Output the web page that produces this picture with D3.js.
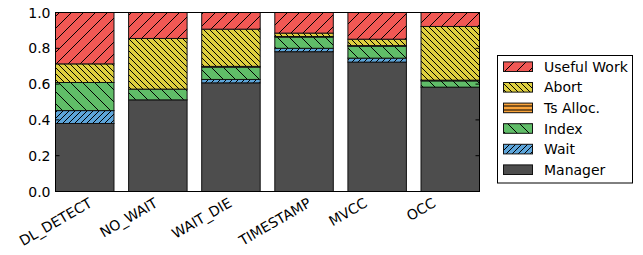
<!DOCTYPE html>
<html>
<meta charset="utf-8">
<style>
  body { margin: 0; background: #fff; }
  svg text { font-family: "DejaVu Sans", sans-serif; }
</style>
<body>
<svg width="643" height="255"></svg>
<script src="https://d3js.org/d3.v7.min.js"></script>
<script>
// data, bottom to top of each bar
const categories = ["DL_DETECT", "NO_WAIT", "WAIT_DIE", "TIMESTAMP", "MVCC", "OCC"];
const manager = [0.380, 0.512, 0.607, 0.781, 0.723, 0.583];
const wait    = [0.072, 0.000, 0.019, 0.019, 0.022, 0.000];
const index   = [0.157, 0.060, 0.069, 0.063, 0.067, 0.035];
const tsAlloc = [0.000, 0.000, 0.004, 0.003, 0.003, 0.004];
const abort   = [0.104, 0.283, 0.208, 0.019, 0.036, 0.300];
const useful  = [0.287, 0.145, 0.093, 0.115, 0.149, 0.078];
const yTicks = [0.0, 0.2, 0.4, 0.6, 0.8, 1.0];

const series = [
  {key: "manager", name: "Manager",     values: manager, color: "#4d4d4d", hatch: null},
  {key: "wait",    name: "Wait",        values: wait,    color: "#5da5da", hatch: {dir: "/", s: 6}},
  {key: "index",   name: "Index",       values: index,   color: "#60bd68", hatch: {dir: "\\", s: 12}},
  {key: "ts",      name: "Ts Alloc.",   values: tsAlloc, color: "#faa43a", hatch: {dir: "-", s: 4}},
  {key: "abort",   name: "Abort",       values: abort,   color: "#decf3f", hatch: {dir: "\\", s: 6}},
  {key: "useful",  name: "Useful Work", values: useful,  color: "#f15854", hatch: {dir: "/", s: 12}}
];

const svg = d3.select("svg");
const plot = {left: 55.5, right: 479.5, top: 12.5, bottom: 191.5};
const fs = "14px";

const x = d3.scaleLinear().domain([0, categories.length - 0.2]).range([plot.left, plot.right]);
const y = d3.scaleLinear().domain([0, 1]).range([plot.bottom, plot.top]);
const barW = 0.8;

// hatch patterns
const defs = svg.append("defs");
series.forEach(s => {
  if (!s.hatch) return;
  const p = defs.append("pattern")
    .attr("id", "h-" + s.key)
    .attr("patternUnits", "userSpaceOnUse")
    .attr("width", s.hatch.s).attr("height", s.hatch.s);
  p.append("rect").attr("width", s.hatch.s).attr("height", s.hatch.s).attr("fill", s.color);
  const n = s.hatch.s;
  let d;
  if (s.hatch.dir === "/") d = `M0,${n} L${n},0 M${-n/2},${n/2} L${n/2},${-n/2} M${n/2},${n*1.5} L${n*1.5},${n/2}`;
  else if (s.hatch.dir === "\\") d = `M0,0 L${n},${n} M${-n/2},${n/2} L${n/2},${n*1.5} M${n/2},${-n/2} L${n*1.5},${n/2}`;
  else d = `M0,${n/2} L${n},${n/2}`;
  p.append("path").attr("d", d).attr("stroke", "#000").attr("stroke-width", 1).attr("fill", "none");
});
const fillOf = s => s.hatch ? `url(#h-${s.key})` : s.color;

// stacked bars
const rows = categories.map((c, i) => {
  const r = {cat: c, i: i};
  series.forEach(s => r[s.key] = s.values[i]);
  return r;
});
const stacked = d3.stack().keys(series.map(s => s.key))(rows);

stacked.forEach((layer, li) => {
  const s = series[li];
  svg.append("g").selectAll("rect").data(layer).enter().append("rect")
    .attr("x", d => x(d.data.i))
    .attr("width", x(barW) - x(0))
    .attr("y", d => y(d[1]))
    .attr("height", d => y(d[0]) - y(d[1]))
    .attr("fill", fillOf(s))
    .attr("stroke", d => (d[1] - d[0]) > 0 ? "#111" : "none")
    .attr("stroke-width", 1);
});

// frame
svg.append("rect")
  .attr("x", plot.left).attr("y", plot.top)
  .attr("width", plot.right - plot.left).attr("height", plot.bottom - plot.top)
  .attr("fill", "none").attr("stroke", "#000").attr("stroke-width", 1);

// y axis, ticks inward on both sides
const yAxis = svg.append("g");
yTicks.forEach(t => {
  yAxis.append("line").attr("x1", plot.left).attr("x2", plot.left + 4)
    .attr("y1", y(t)).attr("y2", y(t)).attr("stroke", "#000");
  yAxis.append("line").attr("x1", plot.right - 4).attr("x2", plot.right)
    .attr("y1", y(t)).attr("y2", y(t)).attr("stroke", "#000");
  yAxis.append("text").attr("x", plot.left - 5).attr("y", y(t))
    .attr("text-anchor", "end").attr("dominant-baseline", "central")
    .attr("font-size", fs).attr("fill", "#000")
    .text(d3.format(".1f")(t));
});

// x labels, rotated, centred on the tick at each bar's left edge
const xLab = svg.append("g");
categories.forEach((c, i) => {
  const t = xLab.append("text")
    .attr("text-anchor", "middle").attr("dominant-baseline", "central")
    .attr("font-size", fs).attr("fill", "#000")
    .text(c);
  const w = t.node().getComputedTextLength();
  const h = 14 * 0.75;
  const bh = w * 0.5 + h * 0.866;
  t.attr("transform", `translate(${x(i)},${197 + bh / 2}) rotate(-30)`);
});

// legend
const lg = svg.append("g");
lg.append("rect").attr("x", 497.5).attr("y", 55.5).attr("width", 135).attr("height", 127.5)
  .attr("fill", "#fff").attr("stroke", "#000").attr("stroke-width", 1);
const legendOrder = series.slice().reverse();
legendOrder.forEach((s, k) => {
  const cy = 66.7 + k * 20.6;
  lg.append("rect").attr("x", 503.5).attr("y", cy - 4.8).attr("width", 29).attr("height", 9.6)
    .attr("fill", fillOf(s)).attr("stroke", "#111").attr("stroke-width", 1);
  lg.append("text").attr("x", 544).attr("y", cy)
    .attr("dominant-baseline", "central").attr("font-size", fs).attr("fill", "#000")
    .text(s.name);
});
</script>
</body>
</html>
